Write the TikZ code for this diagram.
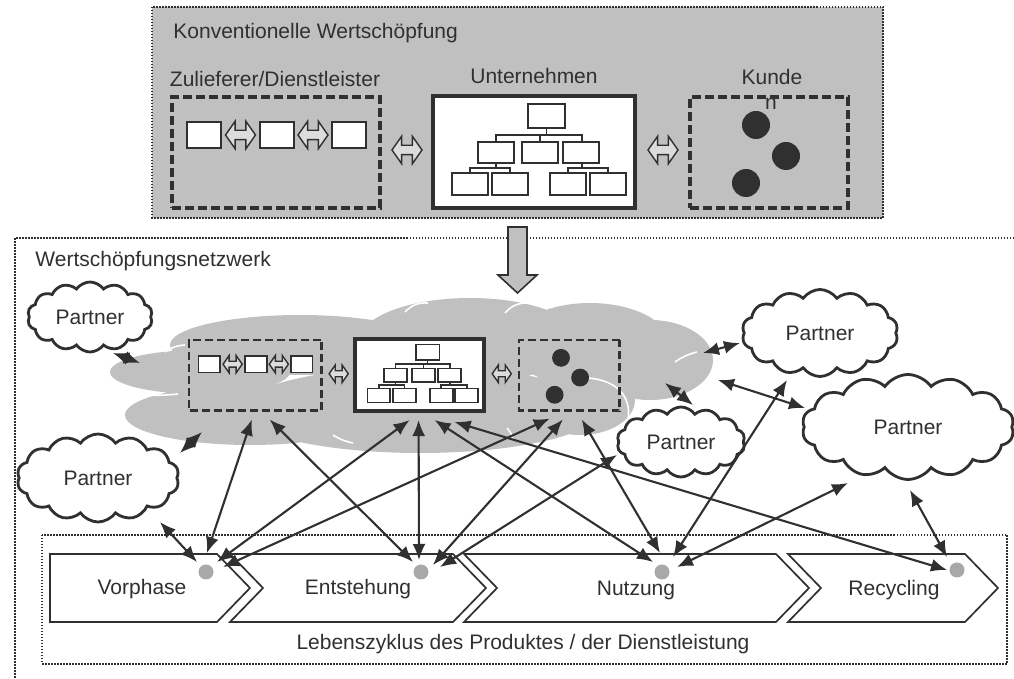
\documentclass[tikz,border=0pt]{standalone}
\usepackage{fontspec}
\setmainfont{Liberation Sans}
\usetikzlibrary{arrows.meta,shapes.symbols,shapes.arrows}

\definecolor{ink}{HTML}{303030}
\definecolor{bggray}{HTML}{C0C0C0}
\definecolor{dotgray}{HTML}{A8A8A8}
\definecolor{arrgray}{HTML}{DCDCDC}

\tikzset{
  txt/.style={text=ink, inner sep=0pt, font=\fontsize{10.5}{12.5}\selectfont},
  dotframe/.style={draw=ink, line width=0.75pt, dash pattern=on 0.75pt off 0.75pt},
  grpbox/.style={draw=ink, line width=1.7pt, dash pattern=on 4.5pt off 2pt, inner sep=0pt},
  firmbox/.style={draw=ink, line width=2.1pt, fill=white, inner sep=0pt},
  unit/.style={draw=ink, line width=0.8pt, fill=white},
  orgline/.style={draw=ink, line width=0.8pt},
  xchg/.style={double arrow, double arrow tip angle=110, draw=ink, fill=arrgray,
    line width=0.7pt, inner sep=2pt, minimum height=15pt, double arrow head extend=4.5pt},
  partner/.style={cloud, cloud puffs=14, cloud puff arc=110, cloud ignores aspect,
    draw=ink, line width=1.4pt, fill=white, txt},
  phase/.style={draw=ink, line width=0.85pt, fill=white},
  stage/.style={circle, fill=dotgray, minimum size=7.5pt, inner sep=0pt},
  link/.style={<->, >={Latex[length=8pt,width=6.5pt]}, draw=ink, line width=1.05pt},
  seam/.style={draw=white, line width=0.8pt},
  vchain/.pic={
    % Zulieferer / Dienstleister
    \node[grpbox, minimum width=104pt, minimum height=55.5pt] (-sup) at (104,55.5) {};
    \foreach \x in {15,88,160}
      \draw[unit] (\x,25) rectangle ++(34,26);
    \node[xchg] (-x1) at (68.5,38) {};
    \node[xchg] (-x2) at (141,38) {};
    \node[xchg] (-x3) at (235,53) {};
    % Unternehmen
    \node[firmbox, minimum width=101pt, minimum height=56pt] (-firm) at (362,55) {};
    \draw[orgline] (374.5,31) -- (374.5,38)
      (324,45) -- (324,38) -- (410,38) -- (410,45) (368,38) -- (368,45)
      (324,66) -- (324,71) (298,76) -- (298,71) -- (338,71) -- (338,76)
      (410,66) -- (410,71) (396,76) -- (396,71) -- (436,71) -- (436,76);
    \draw[unit] (356,7) rectangle (393,31);
    \foreach \x in {306,350,391}
      \draw[unit] (\x,45) rectangle ++(36,21);
    \foreach \x in {280,320,378,418}
      \draw[unit] (\x,76) rectangle ++(36,22);
    \node[xchg] (-x4) at (491,53) {};
    % Kunden
    \node[grpbox, minimum width=79pt, minimum height=55.5pt] (-cus) at (597,55.5) {};
    \foreach \p in {(584,28),(614,59),(574,86)}
      \fill[ink] \p circle (14);
  }
}

\begin{document}
\begin{tikzpicture}[x=0.5pt,y=-0.5pt]
  \useasboundingbox (0,0) rectangle (1014,679);

  % konventionelle Wertschoepfung
  \draw[dotframe, fill=bggray] (152,7) rectangle (883,218);
  \node[txt, anchor=base west] (tconv) at (173,39) {Konventionelle Wertschöpfung};
  \node[txt, anchor=base] (tsup) at (275,87) {Zulieferer/Dienstleister};
  \node[txt, anchor=base] (tfirm) at (534,84) {Unternehmen};
  \node[txt, anchor=base] (tcus) at (772,85) {Kunde};
  \pic (b) at (172,97) {vchain};
  \node[txt, anchor=base] (tcusn) at (771,110) {n};

  % Netzwerk
  \draw[dotframe] (1014,238) -- (15,238) -- (15,679);
  \draw[ink, line width=0.8pt, fill=bggray] (508,227) -- (527,227) -- (527,275) -- (537,275)
    -- (517.5,293) -- (498,275) -- (508,275) -- cycle;
  \node[txt, anchor=base west] (tnet) at (35,267) {Wertschöpfungsnetzwerk};

  % graue Wolke
  \coordinate (net) at (413,375);
  \fill[bggray] (200,372) ellipse (90 and 22) (250,415) ellipse (125 and 30)
    (300,345) ellipse (130 and 30) (470,340) ellipse (110 and 42)
    (590,345) ellipse (80 and 42) (650,360) ellipse (63 and 40)
    (420,410) ellipse (180 and 43) (580,400) ellipse (55 and 35);
  \draw[seam] (125,392) to[bend right=8] (178,394);
  \draw[seam] (165,352) to[bend left=15] (185,345);
  \draw[seam] (405,312) to[bend left=25] (428,303);
  \draw[seam] (505,313) to[bend left=25] (528,303);
  \draw[seam] (588,378) .. controls (615,380) and (632,395) .. (628,420);
  \draw[seam] (675,362) to[bend left=10] (697,352);
  \draw[seam] (333,435) to[bend right=10] (353,443);
  \draw[seam] (507,428) to[bend left=15] (513,440);

  \begin{scope}[shift={(189,340)}, scale=0.637, transform shape,
      grpbox/.append style={line width=1.3pt, dash pattern=on 4pt off 2pt}]
    \pic (s) {vchain};
  \end{scope}

  \node[partner, minimum width=62.5pt, minimum height=35pt] (pTL) at (90,317) {Partner};
  \node[partner, minimum width=81pt, minimum height=44pt] (pBL) at (98,478) {Partner};
  \node[partner, minimum width=78pt, minimum height=43.5pt] (pTR) at (820,333) {Partner};
  \node[partner, minimum width=64pt, minimum height=35pt] (pM) at (681,442) {Partner};
  \node[partner, minimum width=106pt, minimum height=52.5pt] (pR) at (908,427) {Partner};

  % Lebenszyklus
  \draw[dotframe] (42,535) rectangle (1007,664);
  \draw[phase] (50,554) -- (217,554) -- (250,588) -- (217,622) -- (50,622) -- cycle;
  \foreach \l/\r in {230/453, 464/776, 788/965}
    \draw[phase] (\l,554) -- (\r,554) -- ++(33,34) -- (\r,622) -- (\l,622) -- ++(33,-34) -- cycle;
  \node[txt, anchor=base] (tV) at (142,595) {Vorphase};
  \node[txt, anchor=base] (tE) at (358,595) {Entstehung};
  \node[txt, anchor=base] (tN) at (636,596) {Nutzung};
  \node[txt, anchor=base] (tR) at (894,596) {Recycling};
  \node[txt, anchor=base] (tlife) at (523,650) {Lebenszyklus des Produktes / der Dienstleistung};
  \node[stage] (dV) at (206,572) {};
  \node[stage] (dE) at (421,572) {};
  \node[stage] (dN) at (662,572) {};
  \node[stage] (dR) at (957,570) {};

  % Beziehungen
  \draw[link] ([shift={(-3.5,8)}]s-sup.south) -- ([shift={(1,-19)}]dV.center);
  \draw[link] ([shift={(14.5,8)}]s-sup.south) -- ([shift={(-8,-10)}]dE.center);
  \draw[link] ([shift={(-10,8)}]s-firm.south) -- ([shift={(11,-10)}]dV.center);
  \draw[link] ([shift={(-1,8)}]s-firm.south) -- ([shift={(-2,-12)}]dE.center);
  \draw[link] ([shift={(15,8)}]s-firm.south) -- ([shift={(-9,-10)}]dN.center);
  \draw[link] ([shift={(35,10)}]s-firm.south) -- ([shift={(-10,0)}]dR.center);
  \draw[link] ([shift={(-19.5,7)}]s-cus.south) -- ([shift={(17,-5)}]dV.center);
  \draw[link] ([shift={(-6.5,8)}]s-cus.south) -- ([shift={(12,-7)}]dE.center);
  \draw[link] ([shift={(12.5,8)}]s-cus.south) -- ([shift={(-2,-19)}]dN.center);
  \draw[link] ([shift={(19,-5)}]dE.center) -- ([shift={(-64,13)}]pM.center);
  \draw[link] ([shift={(11,-15)}]dN.center) -- ([shift={(-33,47)}]pTR.center);
  \draw[link] ([shift={(15,-5)}]dN.center) -- ([shift={(-60,56)}]pR.center);
  \draw[link] ([shift={(-10,-13)}]dR.center) -- ([shift={(2,63)}]pR.center);
  \draw[link] ([shift={(62,44)}]pBL.center) -- ([shift={(-9,-10)}]dV.center);
  \draw[link] ([shift={(23,36)}]pTL.center) -- ([shift={(-273,-12)}]net);
  \draw[link] ([shift={(82,-25)}]pBL.center) -- ([shift={(-211,57)}]net);
  \draw[link] ([shift={(-80,10)}]pTR.center) -- ([shift={(290,-22)}]net);
  \draw[link] ([shift={(12,-37)}]pM.center) -- ([shift={(252,8)}]net);
  \draw[link] ([shift={(-103,-19)}]pR.center) -- ([shift={(305,5)}]net);
\end{tikzpicture}
\end{document}
